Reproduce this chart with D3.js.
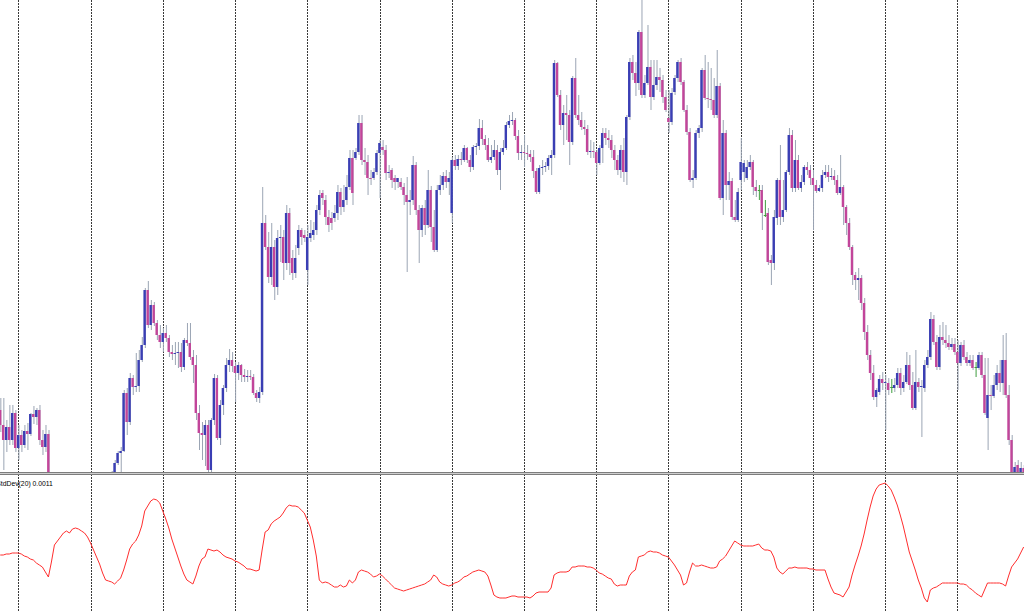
<!DOCTYPE html>
<html><head><meta charset="utf-8">
<script src="https://cdn.jsdelivr.net/npm/d3@7"></script>
<style>html,body{margin:0;padding:0;background:#fff;overflow:hidden}svg{display:block}</style>
</head><body><svg id="c" width="1024" height="611"></svg>
<script>
// Hourly candles (price in points); one trading day = 24 bars
const opens = [
90,75,60,73,60,87,52,65,55,69,
66,86,83,90,60,53,66,25,15,5,
-5,0,-15,-25,-20,-30,-40,-35,-28,-20,
-15,-8,-12,-5,2,8,12,20,26,37,
47,49,107,78,122,113,114,140,155,210,
175,195,177,165,158,167,162,148,146,147,
148,133,160,157,143,135,87,67,65,75,
30,80,122,62,95,112,135,140,134,127,
135,125,123,124,123,107,102,108,277,253,
223,253,213,262,263,237,287,242,227,252,
270,265,230,262,265,270,290,307,300,283,
282,282,287,308,293,300,313,342,342,348,
377,340,338,322,322,328,347,353,350,327,
330,322,318,318,313,305,298,300,335,290,
270,292,275,310,273,250,310,315,324,318,
287,340,334,341,340,352,340,333,353,354,
372,361,355,340,343,350,330,348,352,375,
379,380,364,347,348,347,346,343,329,308,
332,333,334,342,345,437,405,375,387,385,
358,422,385,380,373,371,348,349,348,337,
352,367,362,360,350,340,330,350,328,383,
438,427,417,468,405,417,433,403,415,423,
420,403,382,378,408,422,438,418,390,368,
320,322,367,372,430,402,401,400,385,414,
302,367,315,319,283,280,320,328,322,333,
338,313,310,310,285,287,240,237,282,320,
283,290,328,365,312,340,312,318,333,330,
322,315,309,312,325,328,323,324,320,307,
313,293,277,253,225,220,222,197,168,145,
127,103,108,121,117,117,113,112,115,127,
112,118,135,115,92,118,113,112,135,143,
181,158,133,163,160,157,153,156,148,137,
155,143,137,140,133,132,145,125,82,105,
104,115,127,117,140,105,60,27,35,27,32];
const highs = [
102,102,80,95,95,90,75,70,75,77,
87,94,92,95,70,75,70,28,20,10,
5,2,-10,-12,-15,-25,-30,-22,-15,-8,
-2,0,2,8,15,20,24,29,40,49,
53,110,112,127,125,147,150,163,212,219,
200,198,180,175,172,175,165,155,158,158,
157,162,177,177,150,145,95,78,80,80,
82,126,125,100,115,142,151,148,138,138,
136,131,130,130,126,110,113,313,285,268,
277,260,270,275,270,295,292,250,255,275,
272,270,275,280,278,295,310,310,305,290,
288,295,315,312,315,325,350,350,352,385,
385,352,345,330,332,350,360,360,355,335,
332,325,322,322,317,323,310,344,338,295,
295,300,330,314,290,315,325,328,330,328,
343,345,345,348,355,353,345,355,357,381,
380,365,362,355,360,355,352,360,378,385,
388,382,370,355,365,355,350,350,332,335,
340,338,345,350,440,438,410,395,405,390,
424,442,405,388,380,375,360,358,350,355,
372,372,370,365,355,345,355,362,385,442,
445,438,470,500,425,475,440,440,440,432,
425,410,410,412,425,440,442,420,395,372,
330,370,375,432,445,438,432,422,450,417,
380,370,328,322,300,312,362,340,340,345,
340,320,315,315,300,292,245,290,322,355,
320,330,372,370,360,345,325,335,338,335,
330,320,315,330,335,335,332,330,325,345,
315,295,282,255,228,232,225,202,175,150,
135,112,125,128,125,122,121,122,132,132,
125,148,145,128,150,122,120,140,150,188,
185,165,175,178,175,165,162,162,160,158,
160,148,145,145,138,148,148,142,142,115,
125,135,140,165,167,115,65,38,40,38,35];
const lows = [
68,30,48,55,55,48,40,48,52,50,
64,76,75,55,45,48,20,10,0,-12,
-15,-20,-32,-30,-40,-48,-45,-40,-32,-25,
-20,-18,-15,-10,-2,4,8,14,22,35,
27,48,65,75,105,108,108,138,152,172,
170,174,160,152,148,158,143,140,135,132,
128,130,154,140,117,80,50,40,34,25,
26,75,60,55,85,108,128,128,98,120,
118,118,118,120,105,98,97,105,250,217,
215,200,205,238,220,230,225,220,222,245,
255,258,215,258,260,265,285,295,275,268,
270,278,280,285,288,295,310,295,340,345,
335,325,305,315,320,325,302,345,320,322,
312,310,312,310,295,228,285,295,285,237,
263,265,272,258,248,248,305,310,312,305,
277,330,330,335,338,337,328,330,345,350,
355,350,338,337,340,325,310,345,350,372,
375,360,340,340,333,340,338,322,306,306,
325,328,330,325,342,403,370,355,360,335,
355,382,375,370,365,345,342,342,325,335,
337,355,352,342,330,325,322,318,315,380,
420,404,410,402,402,415,390,400,410,408,
397,388,367,375,405,418,415,388,365,318,
312,320,362,368,400,392,390,382,382,300,
285,300,300,280,278,278,310,318,320,330,
305,303,300,270,283,235,215,230,275,275,
278,288,325,308,308,310,308,315,325,315,
270,307,308,308,322,318,320,315,305,305,
275,265,250,215,210,200,190,160,140,120,
100,93,105,110,70,105,107,108,112,105,
108,116,110,90,90,108,63,108,132,140,
155,130,130,155,152,150,150,145,110,134,
140,134,134,130,123,130,122,85,50,90,
102,110,108,105,102,55,25,24,24,24,24];
const closes = [
75,60,73,60,87,52,65,55,69,66,
86,83,90,60,53,66,25,15,5,-5,
0,-15,-25,-20,-30,-40,-35,-28,-20,-15,
-8,-12,-5,2,8,12,20,26,37,47,
49,107,78,122,113,114,140,155,210,175,
195,177,165,158,167,162,148,146,147,148,
133,160,157,143,135,87,67,65,75,30,
80,122,62,95,112,135,140,134,127,135,
125,123,124,123,107,102,108,277,253,223,
253,213,262,263,237,287,237,227,242,270,
263,262,263,267,270,290,305,302,283,275,
277,287,308,293,300,313,342,307,348,377,
340,338,322,321,328,347,357,350,327,328,
320,318,322,313,305,298,300,335,290,270,
292,275,310,273,250,310,315,324,318,322,
340,334,341,340,352,340,333,353,354,372,
361,355,340,343,350,330,348,352,375,379,
380,364,347,348,347,346,343,329,308,332,
333,334,342,345,437,405,375,387,385,358,
422,385,380,373,371,348,349,348,337,352,
367,362,360,350,340,330,350,328,383,438,
427,417,468,405,417,433,403,415,423,420,
403,390,378,407,422,438,418,390,368,320,
322,367,372,430,402,401,400,385,414,302,
367,315,319,283,280,308,338,337,333,338,
313,309,310,287,285,238,237,283,320,283,
290,328,365,312,340,312,318,333,330,322,
315,309,312,325,328,323,324,320,307,313,
293,277,253,225,220,222,197,168,145,127,
103,110,121,117,118,110,113,115,127,112,
118,135,115,92,118,113,114,135,143,181,
158,133,163,160,157,153,156,148,137,155,
143,137,140,132,133,145,125,87,105,104,
115,127,117,140,105,60,27,33,27,32,28];
// StdDev(20) per bar, in points (1 point = 0.00001)
const stdDev = [
100,100,101,101,102,102,102,101,99,98,
96,95,92,90,88,83,78,93,110,114,
118,122,124,122,126,127,126,124,122,118,
112,105,98,91,82,75,74,73,71,74,
77,85,95,106,111,114,120,129,144,149,
154,156,155,152,144,136,127,116,107,98,
89,81,75,73,71,79,89,96,98,106,
105,104,105,103,100,98,97,96,94,93,
91,89,86,86,85,84,85,105,123,125,
131,134,136,138,142,147,150,149,149,148,
145,142,135,128,115,99,75,72,73,72,
70,68,68,70,68,69,75,72,75,83,
85,84,83,81,78,79,81,79,76,73,
70,67,66,65,64,65,66,67,68,69,
70,71,73,75,80,78,73,71,70,69,
70,72,73,75,78,79,81,83,84,85,
84,83,79,70,60,58,57,57,57,58,
59,59,58,58,58,58,57,59,62,63,
63,63,63,67,80,82,83,83,83,84,
88,88,89,89,89,88,88,87,85,82,
81,79,77,76,71,69,70,70,70,79,
83,85,98,99,100,103,104,103,103,102,
100,99,98,94,90,85,80,70,72,83,
92,89,89,90,89,88,87,87,88,94,
96,99,104,109,114,112,110,109,109,109,
109,110,111,107,105,105,104,98,87,83,
81,84,87,87,88,87,87,87,87,86,
86,85,85,85,85,76,68,62,61,60,
58,63,68,80,90,99,109,121,135,148,
159,166,170,171,172,169,165,158,150,140,
129,116,103,94,85,75,67,57,53,65,
67,68,70,72,72,72,72,72,72,71,
71,70,67,65,62,60,58,65,72,72,
72,72,72,71,69,79,88,92,96,102,108];
const barsPerDay = 24;
const firstDayBar = 6;
const indicatorLabel = "StdDev(20) 0.0011";

const W = 1024, H = 611;
const mainBottom = 472, subTop = 475.5;
const n = opens.length;
const idx = d3.range(n);

const x = d3.scaleLinear().domain([0, n - 1]).range([0.24, 0.24 + 3.01 * (n - 1)]);
const y = d3.scaleLinear().domain([30, 500]).range([470, 0]);
const ys = d3.scaleLinear().domain([44, 181]).range([611, 474]);

const svg = d3.select("#c");
const defs = svg.append("defs");
defs.append("clipPath").attr("id", "clipMain").append("rect")
  .attr("x", 0).attr("y", 0).attr("width", W).attr("height", mainBottom);
defs.append("clipPath").attr("id", "clipSub").append("rect")
  .attr("x", 0).attr("y", subTop).attr("width", W).attr("height", H - subTop);

svg.append("rect").attr("width", W).attr("height", H).attr("fill", "#ffffff");

// day separators
const seps = idx.filter(i => i >= firstDayBar && (i - firstDayBar) % barsPerDay === 0);
svg.append("g").selectAll("line").data(seps).join("line")
  .attr("x1", i => Math.round(x(i)) + 0.5).attr("x2", i => Math.round(x(i)) + 0.5)
  .attr("y1", 0).attr("y2", H)
  .attr("stroke", "#3a3a3a").attr("stroke-width", 1).attr("stroke-dasharray", "2,1");

const bull = "#3a3eb4", bear = "#c2459a", wickC = "#9ba5b4", dojiC = "#3e9e3e";

const gMain = svg.append("g").attr("clip-path", "url(#clipMain)");
const candles = gMain.selectAll("g.c").data(idx).join("g").attr("class", "c");
candles.append("line")
  .attr("x1", i => x(i) + 0.6).attr("x2", i => x(i) + 0.6)
  .attr("y1", i => y(highs[i])).attr("y2", i => y(lows[i]))
  .attr("stroke", i => opens[i] === closes[i] ? dojiC : wickC).attr("stroke-width", 1);
candles.filter(i => opens[i] !== closes[i]).append("rect")
  .attr("x", i => x(i) - 1.3).attr("width", 2.4)
  .attr("y", i => y(Math.max(opens[i], closes[i])))
  .attr("height", i => Math.max(1, Math.abs(y(opens[i]) - y(closes[i]))))
  .attr("fill", i => closes[i] > opens[i] ? bull : bear);
candles.filter(i => opens[i] === closes[i]).append("line")
  .attr("x1", i => x(i) - 1).attr("x2", i => x(i) + 2)
  .attr("y1", i => Math.round(y(opens[i])) + 0.5).attr("y2", i => Math.round(y(opens[i])) + 0.5)
  .attr("stroke", dojiC).attr("stroke-width", 1);

// sub-window border
svg.append("line").attr("x1", 0).attr("x2", W).attr("y1", 472.5).attr("y2", 472.5).attr("stroke", "#7d7d7d");
svg.append("line").attr("x1", 0).attr("x2", W).attr("y1", 473.5).attr("y2", 473.5).attr("stroke", "#cfcfcf");
svg.append("line").attr("x1", 0).attr("x2", W).attr("y1", 474.5).attr("y2", 474.5).attr("stroke", "#7d7d7d");

// StdDev line
const line = d3.line().x((d, i) => x(i)).y(d => ys(d));
svg.append("g").attr("clip-path", "url(#clipSub)").append("path")
  .datum(stdDev).attr("d", line)
  .attr("fill", "none").attr("stroke", "#ff2e2e").attr("stroke-width", 1);

svg.append("text").attr("x", -3.7).attr("y", 486)
  .attr("font-family", "'Liberation Sans', Arial, sans-serif").attr("font-size", 6.8)
  .attr("fill", "#000").text(indicatorLabel);
</script>
</body></html>
